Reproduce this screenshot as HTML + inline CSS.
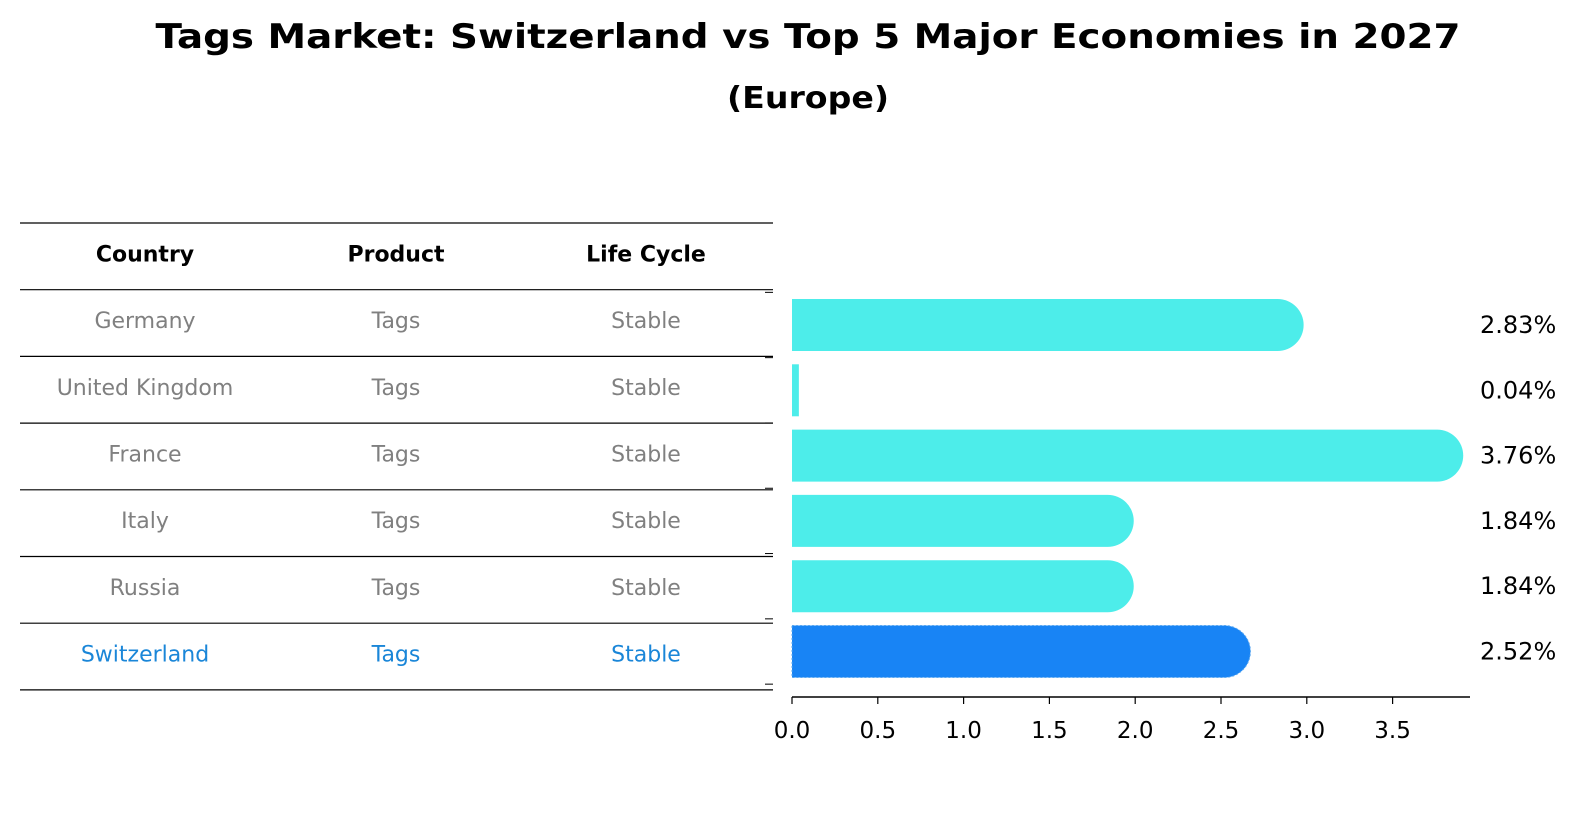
<!DOCTYPE html>
<html><head><meta charset="utf-8"><style>
body{margin:0;background:#fff;}
svg{display:block;font-family:"DejaVu Sans","Liberation Sans",sans-serif;}
</style></head><body>
<svg id="chart" width="1586" height="823" viewBox="0 0 1586 823">
<text x="808" y="48" text-anchor="middle" font-size="34" font-weight="bold" textLength="1305" lengthAdjust="spacingAndGlyphs">Tags Market: Switzerland vs Top 5 Major Economies in 2027</text>
<text x="808" y="108" text-anchor="middle" font-size="30" font-weight="bold" textLength="162" lengthAdjust="spacingAndGlyphs">(Europe)</text>
<g id="table"></g>
<g id="bars"></g>
</svg>
<script>
const countries=["Germany","United Kingdom","France","Italy","Russia","Switzerland"];
const products=["Tags","Tags","Tags","Tags","Tags","Tags"];
const lifeCycles=["Stable","Stable","Stable","Stable","Stable","Stable"];
const growth=[2.83,0.04,3.76,1.84,1.84,2.52];
const growthLabels=["2.83%","0.04%","3.76%","1.84%","1.84%","2.52%"];
const ticks=[0,0.5,1,1.5,2,2.5,3,3.5];
const tickLabels=["0.0","0.5","1.0","1.5","2.0","2.5","3.0","3.5"];

const NS="http://www.w3.org/2000/svg";
function mk(tag,attrs,parent){const e=document.createElementNS(NS,tag);for(const k in attrs)e.setAttribute(k,attrs[k]);parent.appendChild(e);return e;}
const table=document.getElementById('table');
const bars=document.getElementById('bars');
const x0=792, unit=171.6;
function xs(v){return x0+v*unit;}
const rowTop=223, rowH=66.7;
const barC0=325, barStep=65.3, barH=52;
function yc(i){return barC0+i*barStep;}
const colX=[145,396,646];

for(let i=0;i<=7;i++){
  const l=mk('line',{x1:20,x2:773,y1:rowTop+i*rowH,y2:rowTop+i*rowH,stroke:'#000','stroke-width':1.2},table);
  
  
}
const headers=["Country","Product","Life Cycle"];
headers.forEach((h,j)=>{
  const t=mk('text',{x:colX[j],y:rowTop+rowH/2+5,'text-anchor':'middle','font-size':22,'font-weight':'bold'},table);
  t.textContent=h;
  
  
});
countries.forEach((c,i)=>{
  const col=i===countries.length-1?'#1a86d8':'#808080';
  [c,products[i],lifeCycles[i]].forEach((v,j)=>{
    const t=mk('text',{x:colX[j],y:rowTop+rowH*(i+1)+rowH/2+5,'text-anchor':'middle','font-size':22,fill:col},table);
    t.textContent=v;
    
    
  });
});

growth.forEach((v,i)=>{
  const col=i===growth.length-1?'#1884f5':'#4dedea';
  const y=yc(i)-barH/2, w=xs(v)-x0, r=barH/2;
  let p;
  if(w>r){
    p=mk('path',{d:`M${x0},${y} H${x0+w} A${r},${r} 0 0 1 ${x0+w},${y+barH} H${x0} Z`,fill:col},bars);
  } else {
    p=mk('rect',{x:x0,y:y,width:Math.max(w,1),height:barH,fill:col},bars);
  }
  if(i===growth.length-1){p.setAttribute('stroke','#5aa8f0');p.setAttribute('stroke-dasharray','2,2');p.setAttribute('stroke-width','1');}
  
  
  const t=mk('text',{x:1480,y:yc(i)+8,'font-size':24},bars);
  t.textContent=growthLabels[i];
  
  
});
for(let i=0;i<=6;i++){
  const yy=yc(i)-barStep/2;
  const l=mk('line',{x1:765,x2:773,y1:yy,y2:yy,stroke:'#000','stroke-width':1},bars);
  
  
}
const ax=mk('line',{x1:x0,x2:1470,y1:697,y2:697,stroke:'#000','stroke-width':1.5},bars);


ticks.forEach((v,i)=>{
  const l=mk('line',{x1:xs(v),x2:xs(v),y1:697,y2:704,stroke:'#000','stroke-width':1.2},bars);
  
  
  const t=mk('text',{x:xs(v),y:738,'text-anchor':'middle','font-size':23},bars);
  t.textContent=tickLabels[i];
  
  
});
</script>
</body></html>
